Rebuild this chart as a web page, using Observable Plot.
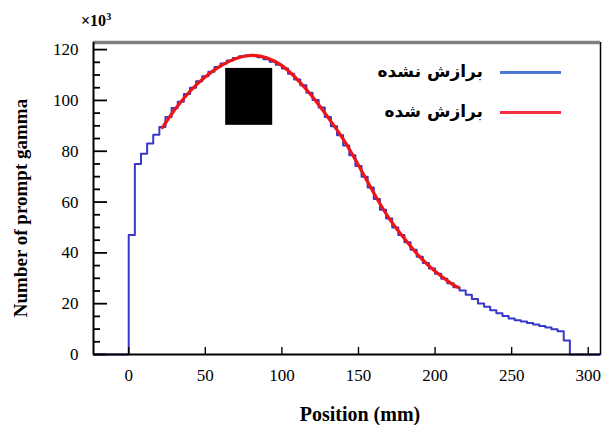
<!DOCTYPE html>
<html><head><meta charset="utf-8">
<script src="https://cdn.jsdelivr.net/npm/d3@7"></script>
<script src="https://cdn.jsdelivr.net/npm/@observablehq/plot@0.6"></script>
<style>
body{margin:0;background:#fff;}
#wrap{position:relative;width:602px;height:425px;overflow:hidden;background:#fff;}
#wrap svg{position:absolute;left:0;top:0;}
.ov{position:absolute;white-space:nowrap;font-family:"Liberation Serif",serif;color:#000;}
.lg{position:absolute;white-space:nowrap;font-family:"DejaVu Sans",sans-serif;font-weight:bold;font-size:17px;direction:rtl;text-align:right;}
.ln{position:absolute;height:3px;}
</style></head><body><div id="wrap"></div>
<script>
// Blue histogram (unfitted): bin start (mm) and counts (x10^3)
const binStart = [0,4,8,12,16,20,24,28,32,36,40,44,48,52,56,60,64,68,72,76,80,84,88,92,96,100,104,108,112,116,120,124,128,132,136,140,144,148,152,156,160,164,168,172,176,180,184,188,192,196,200,204,208,212,216,220,224,228,232,236,240,244,248,252,256,260,264,268,272,276,280,284];
const binCount = [47,75,79,83,86.5,89.5,93.5,97,99.5,102.5,105,107.5,109.5,111.3,113.2,114.5,115.7,116.7,117.4,117.7,117.6,117,116.2,115.2,114,112.6,110.5,108.2,106,103,100.2,97.2,93.5,89.8,86.3,82.3,78.4,74.2,70,65.7,61.2,57,53.5,50,47,44.2,41.2,38.5,36,33.8,31.8,29.8,28,26.5,25.2,23.5,21.8,20.1,18.8,17.4,16.2,15.2,14.2,13.5,13,12.4,11.8,11.2,10.6,9.9,9.2,5.5];
const binEnd = 288;
// Red fitted curve
const fitX = [22,30,40,50,60,70,80,90,100,110,120,130,140,150,160,170,180,190,200,210,215];
const fitY = [89.3,96.3,103.6,109.3,113.6,116.5,117.7,116.8,113.7,108.3,101.4,93.4,84.8,74.5,63.6,53.6,45.6,38.4,32.8,28.2,26.4];
// Axes
const xDomain = [-23, 308];
const yDomain = [0, 122.8];
const xTicks = [0,50,100,150,200,250,300];
const yTicks = [0,20,40,60,80,100,120];
const yMinor = [5,10,15,25,30,35,45,50,55,65,70,75,85,90,95,105,110,115];
// Black redaction box
const box = [{x1:63.3,x2:94,y1:90.2,y2:112.6}];
const legendLabels = ["برازش نشده","برازش شده"];
const axisLabels = {x:"Position (mm)", y:"Number of prompt gamma"};

const W = 602, H = 425, mL = 93, mR = 2, mT = 42, mB = 71;
const fw = W - mL - mR, fh = H - mT - mB;

const stepData = [{x:xDomain[0],y:0}]
  .concat(binStart.map((x,i)=>({x, y:binCount[i]})))
  .concat([{x:binEnd,y:0},{x:xDomain[1],y:0}]);
const fitData = fitX.map((x,i)=>({x, y:fitY[i]}));

const chart = Plot.plot({
  width:W, height:H,
  marginLeft:mL, marginRight:mR, marginTop:mT, marginBottom:mB,
  style:{fontFamily:"Liberation Serif", fontSize:"17px", background:"transparent", color:"#000"},
  x:{domain:xDomain},
  y:{domain:yDomain},
  marks:[
    Plot.line(stepData,{x:"x",y:"y",curve:"step-after",stroke:"#3838c8",strokeWidth:2}),
    Plot.line(fitData,{x:"x",y:"y",curve:"natural",stroke:"#f01414",strokeWidth:3.2}),
    Plot.rect(box,{x1:"x1",x2:"x2",y1:"y1",y2:"y2",fill:"#000"}),
    Plot.ruleY(yMinor,{y:d=>d, insetRight:fw-7, stroke:"#000", strokeWidth:1.8}),
    Plot.ruleY(yTicks,{y:d=>d, insetRight:fw-14, stroke:"#000", strokeWidth:1.8}),
    Plot.axisY({ticks:yTicks, tickSize:0, tickPadding:15, label:null, fontSize:17}),
    Plot.ruleX(xTicks,{x:d=>d, insetTop:fh-7, stroke:"#000", strokeWidth:1.4}),
    Plot.axisX({ticks:xTicks, tickSize:0, tickPadding:14, label:null, fontSize:17}),
    Plot.ruleX([xDomain[1]],{stroke:"#000",strokeWidth:1.5}),
    Plot.ruleY([yDomain[1]],{stroke:"#808080",strokeWidth:3.5}),
    Plot.ruleX([xDomain[0]],{stroke:"#000",strokeWidth:2}),
    Plot.ruleY([0],{stroke:"#000",strokeWidth:2})
  ]
});
const wrap = document.getElementById("wrap");
wrap.appendChild(chart);

function add(cls, text, css){const d=document.createElement("div");d.className=cls;if(text!=null)d.textContent=text;Object.assign(d.style,css);wrap.appendChild(d);return d;}
const u = add("ov", null, {left:"81px", top:"11px", fontSize:"16px", fontWeight:"bold"});
u.innerHTML = "×10<sup style='font-size:10px'>3</sup>";
add("ov", axisLabels.x, {left:"360px", top:"414px", fontSize:"20px", fontWeight:"bold", transform:"translate(-50%,-50%)"});
add("ov", axisLabels.y, {left:"21px", top:"208px", fontSize:"19px", fontWeight:"bold", transform:"translate(-50%,-50%) rotate(-90deg)"});
add("lg", legendLabels[0], {right:(W-483)+"px", top:"61px"});
add("lg", legendLabels[1], {right:(W-483)+"px", top:"101px"});
add("ln", null, {left:"500px", width:"61px", top:"71px", background:"#4a78d4"});
add("ln", null, {left:"500px", width:"61px", top:"111px", background:"#f43040"});
</script></body></html>
